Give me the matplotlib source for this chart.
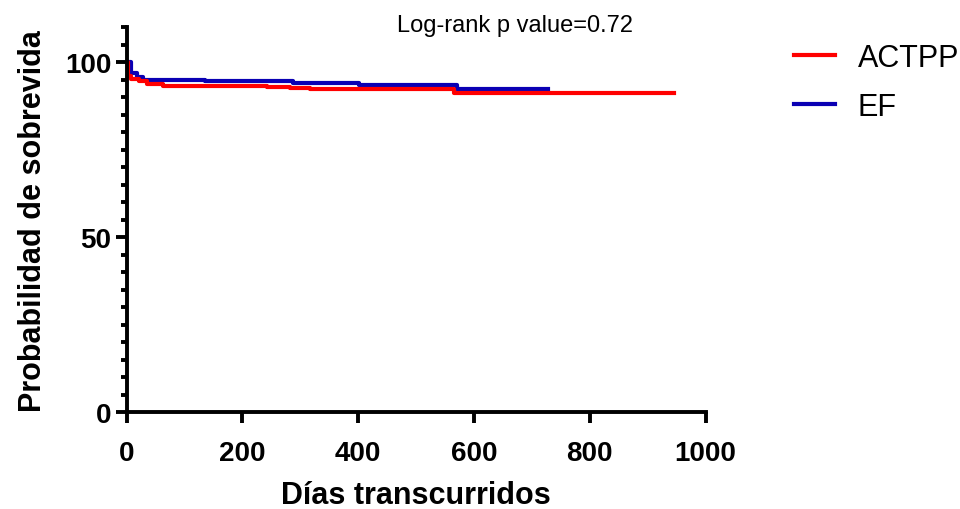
import matplotlib.pyplot as plt
from matplotlib.ticker import MultipleLocator

plt.rcParams['font.family'] = ['Liberation Sans', 'DejaVu Sans']

# Kaplan-Meier step data (days, survival %)
actpp_days = [0, 3, 8, 22, 35, 62, 242, 282, 316, 566, 946]
actpp_surv = [100, 96.0, 95.2, 94.5, 93.8, 93.3, 93.0, 92.6, 92.2, 91.3, 91.3]

ef_days = [0, 8, 18, 28, 135, 287, 402, 570, 727]
ef_surv = [100, 97.0, 95.8, 94.8, 94.5, 94.0, 93.4, 92.4, 92.4]

pvalue_text = 'Log-rank p value=0.72'

fig = plt.figure(figsize=(9.6, 5.1), dpi=100)
ax = fig.add_axes([0.132, 0.19, 0.603, 0.755])

ax.step(ef_days, ef_surv, where='post', color='#0a00b4', linewidth=3, label='EF')
ax.step(actpp_days, actpp_surv, where='post', color='#ff0000', linewidth=3, label='ACTPP')

ax.set_xlim(0, 1000)
ax.set_ylim(0, 110)
ax.set_xticks([0, 200, 400, 600, 800, 1000])
ax.set_yticks([0, 50, 100])
ax.yaxis.set_minor_locator(MultipleLocator(5))

for side in ['top', 'right']:
    ax.spines[side].set_visible(False)
for side in ['left', 'bottom']:
    ax.spines[side].set_linewidth(2.8)
    ax.spines[side].set_color('black')

ax.tick_params(axis='both', which='major', direction='out', length=8, width=2.8,
               labelsize=20)
ax.tick_params(axis='x', which='major', pad=12)
ax.tick_params(axis='y', which='major', pad=3)
ax.tick_params(axis='y', which='minor', direction='out', length=4.5, width=2.8)
for lbl in ax.get_xticklabels() + ax.get_yticklabels():
    lbl.set_fontweight('bold')

ax.set_xlabel('Días transcurridos', fontsize=22, fontweight='bold', labelpad=10)
ax.set_ylabel('Probabilidad de sobrevida', fontsize=22, fontweight='bold', labelpad=12)

fig.text(0.536, 0.937, pvalue_text, fontsize=17, ha='center', va='baseline')

handles, labels = ax.get_legend_handles_labels()
fig.legend(handles[::-1], labels[::-1], loc='upper left', bbox_to_anchor=(0.798, 0.968),
           frameon=False, fontsize=22, handlelength=1.35, handletextpad=0.75,
           labelspacing=0.62)

fig.savefig('out.png', dpi=100)
